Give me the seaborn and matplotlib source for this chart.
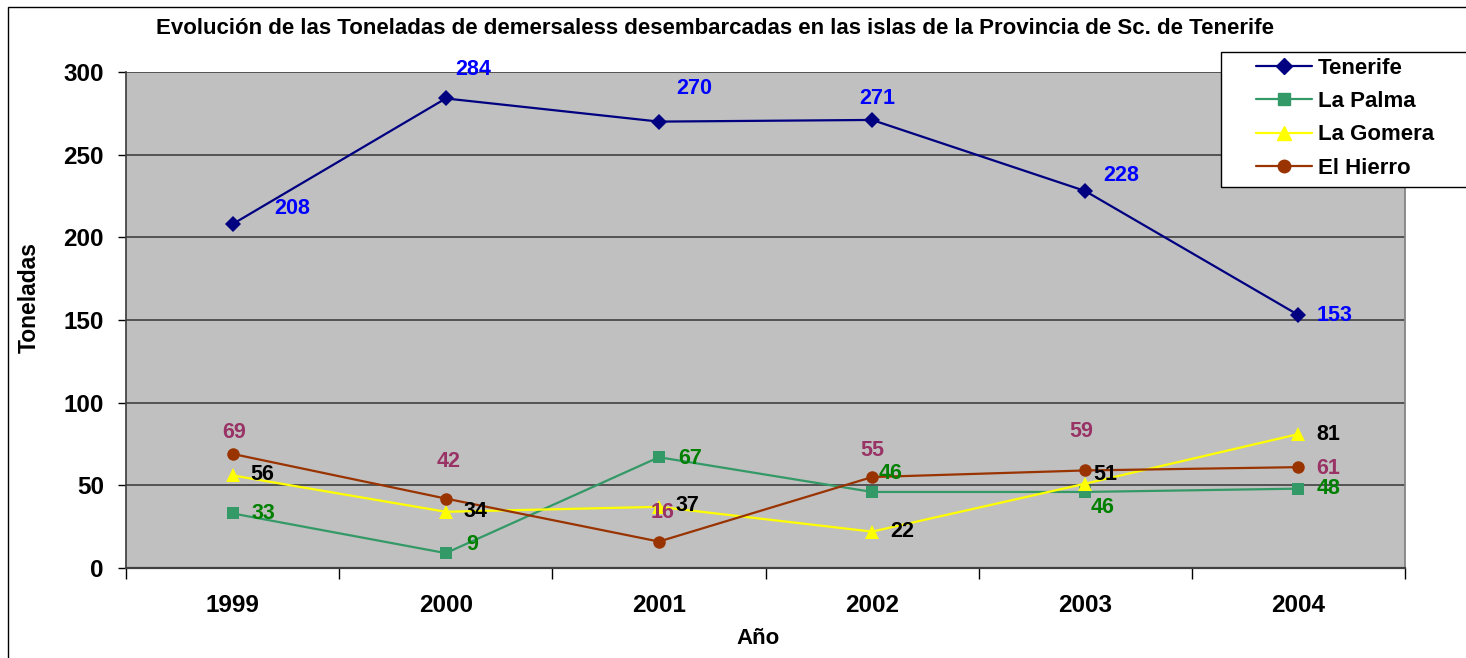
import numpy as np
import pandas as pd
import matplotlib
matplotlib.use('Agg')
import matplotlib.pyplot as plt
from matplotlib.lines import Line2D
from matplotlib.patches import Rectangle
import seaborn as sns

years = ['1999', '2000', '2001', '2002', '2003', '2004']
islands = ['Tenerife', 'La Palma', 'La Gomera', 'El Hierro']
tenerife = [208, 284, 270, 271, 228, 153]
la_palma = [33, 9, 67, 46, 46, 48]
la_gomera = [56, 34, 37, 22, 51, 81]
el_hierro = [69, 42, 16, 55, 59, 61]

# style per island
line_colors = {'Tenerife': '#000080', 'La Palma': '#339966',
               'La Gomera': '#FFFF00', 'El Hierro': '#993300'}
label_colors = {'Tenerife': '#0000FF', 'La Palma': '#008000',
                'La Gomera': '#000000', 'El Hierro': '#993366'}
markers = {'Tenerife': 'D', 'La Palma': 's', 'La Gomera': '^', 'El Hierro': 'o'}
msizes = {'Tenerife': 8, 'La Palma': 8, 'La Gomera': 10, 'El Hierro': 9}
# label offsets in pixels (dx, dy) as placed by hand in the original
offsets = {
    'Tenerife': [(60, 16), (27, 29), (35, 33), (5, 21), (36, 16), (36, 0)],
    'La Palma': [(31, 0), (26, 9), (31, -1), (18, 18), (17, -16), (30, 0)],
    'La Gomera': [(30, 1), (30, 0), (29, 1), (30, 0), (20, 9), (30, 0)],
    'El Hierro': [(2, 21), (3, 37), (4, 29), (0, 27), (-4, 39), (30, -1)],
}

series = {'Tenerife': tenerife, 'La Palma': la_palma,
          'La Gomera': la_gomera, 'El Hierro': el_hierro}
rows = []
for isla in islands:
    for i, (y, v) in enumerate(zip(years, series[isla])):
        rows.append({'pos': i, 'Año': y, 'Toneladas': v, 'Isla': isla})
df = pd.DataFrame(rows)

sns.set_theme(style='white')
plt.rcParams['font.family'] = ['Liberation Sans', 'DejaVu Sans']
plt.rcParams['font.weight'] = 'bold'
plt.rcParams['text.color'] = 'black'
plt.rcParams['axes.labelcolor'] = 'black'
plt.rcParams['xtick.color'] = 'black'
plt.rcParams['ytick.color'] = 'black'

fig = plt.figure(figsize=(14.66, 6.58), dpi=100)
ax = fig.add_axes([126 / 1466, 1 - 568 / 658, 1279 / 1466, 496 / 658])
ax.set_facecolor('#C0C0C0')

sns.lineplot(data=df, x='pos', y='Toneladas', hue='Isla', style='Isla',
             markers=markers, dashes=False, palette=line_colors,
             hue_order=islands, style_order=islands, sort=False,
             linewidth=1.6, markersize=9, markeredgewidth=0,
             legend=False, ax=ax)
for line, isla in zip(ax.lines, islands):
    line.set_markersize(msizes[isla])
    line.set_markeredgecolor(line_colors[isla])

for isla in islands:
    for i, v in enumerate(series[isla]):
        dx, dy = offsets[isla][i]
        ax.annotate(str(v), (i, v), xytext=(dx, dy), textcoords='offset pixels',
                    ha='center', va='center', fontsize=15.5, fontweight='bold',
                    color=label_colors[isla], zorder=5)

ax.set_xlim(-0.5, len(years) - 0.5)
ax.set_ylim(0, 300)
ax.set_yticks(range(0, 301, 50))
ax.set_xticks(range(len(years)))
ax.set_xticklabels(years)
ax.set_xticks(np.arange(-0.5, len(years), 1), minor=True)
ax.yaxis.grid(True, color='#404040', linewidth=1.2)
ax.set_axisbelow(True)

ax.tick_params(axis='x', which='major', length=0, pad=18.5, labelsize=17.5,
               labelcolor='black')
ax.tick_params(axis='x', which='minor', length=8, width=1, color='black',
               direction='out', bottom=True)
ax.tick_params(axis='y', length=6, width=1, color='black', direction='out',
               left=True, pad=10, labelsize=17.5, labelcolor='black')
for lab in ax.get_xticklabels() + ax.get_yticklabels():
    lab.set_fontweight('bold')

ax.spines['top'].set_visible(False)
ax.spines['right'].set_color('#808080')
ax.spines['left'].set_color('#404040')
ax.spines['bottom'].set_color('#404040')
ax.spines['bottom'].set_linewidth(1.6)

ax.set_xlabel('Año', fontsize=16, fontweight='bold')
ax.set_ylabel('Toneladas', fontsize=16.5, fontweight='bold')
ax.xaxis.set_label_coords(0.494, -0.121)
ax.yaxis.set_label_coords(-0.067, 0.546)

fig.text(0.488, 1 - 28 / 658, 'Evolución de las Toneladas de demersaless desembarcadas '
         'en las islas de la Provincia de Sc. de Tenerife',
         ha='center', va='center', fontsize=16, fontweight='bold')

# outer frame of the chart
fig.patches.append(Rectangle((8 / 1466, -0.05), 1.2, 1.05 - 7 / 658,
                             transform=fig.transFigure, fill=False,
                             edgecolor='black', linewidth=1, zorder=1))

# legend box
fig.patches.append(Rectangle((1221 / 1466, 1 - 187 / 658), 0.3, 135 / 658,
                             transform=fig.transFigure, facecolor='white',
                             edgecolor='black', linewidth=1, zorder=4))
handles = [Line2D([], [], color=line_colors[k], marker=markers[k], lw=1.6,
                  markersize=msizes[k], markeredgecolor=line_colors[k])
           for k in islands]
fig.legend(handles, islands, loc='upper left',
           bbox_to_anchor=(1256 / 1466, 1 - 58 / 658),
           frameon=False, borderpad=0, borderaxespad=0,
           handlelength=2.5, handletextpad=0.3, labelspacing=0.55,
           prop={'size': 16, 'weight': 'bold'})

fig.savefig('out.png', dpi=100)
